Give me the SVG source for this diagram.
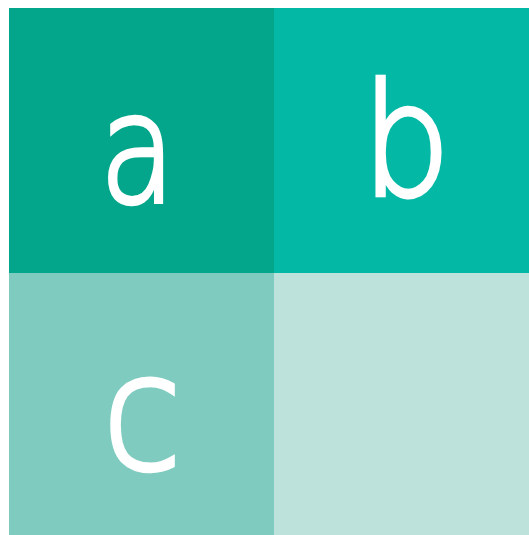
<svg xmlns="http://www.w3.org/2000/svg" width="529" height="535" viewBox="0 0 529 535">
<style>
.lbl{font-family:"DejaVu Sans",sans-serif;font-weight:200;fill:#ffffff;stroke:#ffffff;stroke-width:4.5px;stroke-linejoin:miter;text-anchor:middle}
</style>
<rect width="529" height="535" fill="#ffffff"/>
<g id="a">
<rect x="9" y="8" width="265" height="265" fill="#03a68b"/>
<text class="lbl" font-size="152" transform="translate(137.5 202) scale(0.81 1)">a</text>
</g>
<g id="b">
<rect x="274" y="8" width="255" height="265" fill="#04b8a6"/>
<text class="lbl" font-size="156" transform="translate(406 195) scale(0.9 1)">b</text>
</g>
<g id="c">
<rect x="9" y="273" width="265" height="262" fill="#7fcbbf"/>
<text class="lbl" font-size="160" transform="translate(142 469) scale(0.9 1)">c</text>
</g>
<g id="d">
<rect x="274" y="273" width="255" height="262" fill="#bde2dc"/>
</g>
<g id="connectors"/>
</svg>
